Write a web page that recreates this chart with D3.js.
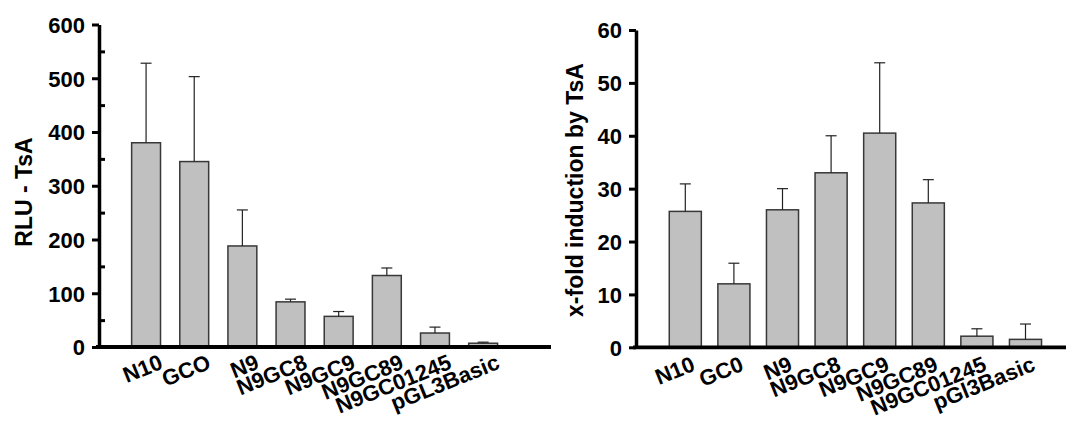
<!DOCTYPE html>
<html>
<head>
<meta charset="utf-8">
<script src="https://cdn.jsdelivr.net/npm/d3@7"></script>
<style>
  body { margin: 0; background: #fff; }
  svg text { font-family: "Liberation Sans", Arial, sans-serif; font-weight: bold; fill: #000; }
</style>
</head>
<body>
<svg id="chart" width="1066" height="421"></svg>
<script>
// left panel: RLU after TsA
var rluCats = ["N10", "GCO", "N9", "N9GC8", "N9GC9", "N9GC89", "N9GC01245", "pGL3Basic"];
var rluVals = [380, 345, 188, 84, 57, 133, 26, 7];
var rluErr  = [148, 158, 67, 5, 9, 14, 11, 2];
var rluTicks = [0, 100, 200, 300, 400, 500, 600];
var rluMinor = [50, 150, 250, 350, 450, 550];

// right panel: fold induction
var foldCats = ["N10", "GC0", "N9", "N9GC8", "N9GC9", "N9GC89", "N9GC01245", "pGl3Basic"];
var foldVals = [25.7, 12.0, 26.0, 33.0, 40.5, 27.3, 2.1, 1.5];
var foldErr  = [5.2, 3.9, 4.0, 7.0, 13.3, 4.4, 1.4, 2.9];
var foldTicks = [0, 10, 20, 30, 40, 50, 60];

var svg = d3.select("#chart");

function drawPanel(cfg) {
  var g = svg.append("g");
  var x = d3.scaleBand().domain(cfg.cats).range(cfg.xRange)
    .paddingInner(cfg.padIn).paddingOuter(cfg.padIn / 2);
  var y = d3.scaleLinear().domain(cfg.yDomain).range(cfg.yRange);
  var data = cfg.cats.map(function(c, i) { return { c: c, v: cfg.vals[i], e: cfg.err[i] }; });

  // bars
  g.selectAll("rect.bar").data(data).enter().append("rect")
    .attr("class", "bar")
    .attr("x", function(d) { return x(d.c); })
    .attr("y", function(d) { return y(d.v); })
    .attr("width", x.bandwidth())
    .attr("height", function(d) { return y(0) - y(d.v); })
    .attr("fill", "#c0c0c0")
    .attr("stroke", "#383838")
    .attr("stroke-width", 1.5);

  // error bars (upper only)
  var eb = g.selectAll("g.err").data(data).enter().append("g").attr("class", "err")
    .attr("stroke", "#222").attr("stroke-width", 1.2);
  eb.append("line")
    .attr("x1", function(d) { return x(d.c) + x.bandwidth() / 2; })
    .attr("x2", function(d) { return x(d.c) + x.bandwidth() / 2; })
    .attr("y1", function(d) { return y(d.v); })
    .attr("y2", function(d) { return y(d.v + d.e); });
  eb.append("line")
    .attr("x1", function(d) { return x(d.c) + x.bandwidth() / 2 - 5.5; })
    .attr("x2", function(d) { return x(d.c) + x.bandwidth() / 2 + 5.5; })
    .attr("y1", function(d) { return y(d.v + d.e); })
    .attr("y2", function(d) { return y(d.v + d.e); });

  // y axis
  var ax = g.append("g").attr("transform", "translate(" + cfg.axisX + ",0)")
    .call(d3.axisLeft(y).tickValues(cfg.ticks).tickSize(7).tickPadding(7).tickSizeOuter(0));
  ax.select(".domain").attr("stroke-width", 3.5).attr("stroke", "#000");
  ax.selectAll(".tick line").attr("stroke-width", 3).attr("stroke", "#000");
  ax.selectAll(".tick text").style("font-size", "22px").attr("dy", "0.36em");

  if (cfg.minor) {
    var mx = g.append("g").attr("transform", "translate(" + cfg.axisX + ",0)")
      .call(d3.axisRight(y).tickValues(cfg.minor).tickSize(6).tickFormat("").tickSizeOuter(0));
    mx.select(".domain").remove();
    mx.selectAll(".tick line").attr("stroke-width", 3).attr("stroke", "#000");
  }

  // x axis baseline
  g.append("line")
    .attr("x1", cfg.axisX - 3).attr("x2", cfg.baseEnd)
    .attr("y1", y(0)).attr("y2", y(0))
    .attr("stroke", "#000").attr("stroke-width", 3.8);

  // category labels
  g.selectAll("text.cat").data(data).enter().append("text")
    .attr("class", "cat")
    .attr("text-anchor", "end")
    .style("font-size", "22px")
    .attr("transform", function(d) {
      return "translate(" + (x(d.c) + x.bandwidth() / 2 + cfg.labDx) + "," + cfg.labY + ") rotate(-22)";
    })
    .text(function(d) { return d.c; });

  // y title
  g.append("text")
    .attr("text-anchor", "middle")
    .style("font-size", "23px")
    .attr("transform", "translate(" + cfg.titleX + "," + cfg.titleY + ") rotate(-90)")
    .text(cfg.title);
}

drawPanel({
  cats: rluCats, vals: rluVals, err: rluErr, ticks: rluTicks, minor: rluMinor,
  xRange: [122, 507.2], padIn: 0.4,
  yDomain: [0, 600], yRange: [347, 24.5],
  axisX: 99, baseEnd: 551,
  labDx: 18, labY: 368,
  title: "RLU - TsA", titleX: 32, titleY: 192
});

drawPanel({
  cats: foldCats, vals: foldVals, err: foldErr, ticks: foldTicks, minor: null,
  xRange: [661, 1049.8], padIn: 0.34,
  yDomain: [0, 60], yRange: [347.3, 30],
  axisX: 636, baseEnd: 1066,
  labDx: 11, labY: 370,
  title: "x-fold induction by TsA", titleX: 583, titleY: 190
});
</script>
</body>
</html>
